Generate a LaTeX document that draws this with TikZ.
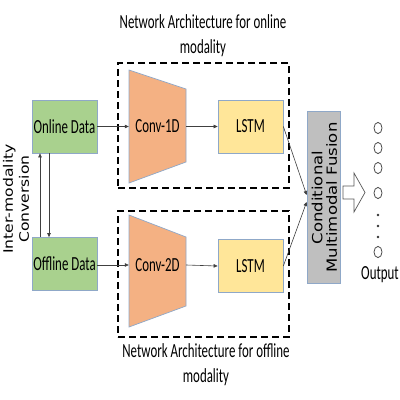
\documentclass[tikz,border=0pt]{standalone}
\usepackage{fontspec}
\usetikzlibrary{arrows.meta}
\newfontfamily\lblfont[FakeStretch=0.645]{Carlito}
\newfontfamily\rotfont[FakeStretch=1.2]{DejaVu Sans}
\newfontfamily\fusfont[FakeStretch=1.18]{DejaVu Sans}
\definecolor{gfill}{HTML}{A9D18E}
\definecolor{cfill}{HTML}{F4B183}
\definecolor{lfill}{HTML}{FFE699}
\definecolor{ffill}{HTML}{BFBFBF}
\definecolor{bord}{HTML}{8FA8C8}
\definecolor{lnk}{HTML}{404040}
\tikzset{
  box/.style={draw=bord, line width=0.7pt, minimum width=65pt, minimum height=53pt, inner sep=0pt,
    font=\lblfont\fontsize{20}{22}\selectfont},
  lbl/.style={inner sep=0pt, font=\lblfont\fontsize{20}{25}\selectfont, align=center},
  convlbl/.style={inner sep=0pt, minimum width=57pt, minimum height=40pt, font=\lblfont\fontsize{20}{22}\selectfont},
  dashbox/.style={draw=black, line width=1.7pt, dash pattern=on 7pt off 4pt, inner sep=0pt},
  conn/.style={draw=lnk, line width=0.6pt, -{Triangle[length=4pt,width=3.5pt]}},
  outc/.style={draw=black!70, line width=0.8pt},
}
\begin{document}
\begin{tikzpicture}[x=1pt,y=-1pt]
\useasboundingbox (0,0) rectangle (400,400);
\fill[white] (0,0) rectangle (400,400);

% titles
\node[lbl] (t1) at (203,36) {Network Architecture for online\\modality};
\node[lbl] (t2) at (206,365) {Network Architecture for offline\\modality};

% dashed network boxes
\node[dashbox, minimum width=171pt, minimum height=125pt] (net1) at (203.5,125.5) {};
\node[dashbox, minimum width=171pt, minimum height=126pt] (net2) at (203.5,274) {};

% data boxes
\node[box, fill=gfill] (online) at (64.5,126.5) {Online Data};
\node[box, fill=gfill] (offline) at (64.5,264) {Offline Data};

% conv trapezoids
\filldraw[fill=cfill, draw=bord, line width=0.7pt] (129,70) -- (186,89) -- (186,162) -- (129,183) -- cycle;
\filldraw[fill=cfill, draw=bord, line width=0.7pt] (129,215) -- (186,237) -- (186,306) -- (129,327) -- cycle;
\node[convlbl] (conv1) at (157.5,126.5) {Conv-1D};
\node[convlbl] (conv2) at (157.5,265) {Conv-2D};

% LSTM boxes
\node[box, fill=lfill] (lstm1) at (250.5,126.5) {LSTM};
\node[box, fill=lfill] (lstm2) at (250.5,266) {LSTM};

% fusion
\node[draw=bord, fill=ffill, line width=0.7pt, minimum width=33pt, minimum height=172pt, inner sep=0pt] (fusion) at (323.5,197.5) {};
\node[rotate=90, align=center, inner sep=0pt, font=\fusfont\fontsize{14}{14.5}\selectfont] (fusiontext) at (324.5,197.5) {Conditional\\Multimodal Fusion};

% inter-modality label
\node[rotate=90, align=center, inner sep=0pt, font=\rotfont\fontsize{13}{16}\selectfont] (inter) at (16,199) {Inter-modality\\Conversion};

% connectors
\draw[conn] (online.east) -- (conv1.west);
\draw[conn] (offline.east |- conv2.west) -- (conv2.west);
\draw[conn] (conv1.east) -- (lstm1.west);
\draw[conn] (conv2.east) -- (lstm2.west);
\draw[conn] (lstm1.east) -- ([yshift=2.5pt]fusion.west);
\draw[conn] (lstm2.east) -- ([yshift=-4.5pt]fusion.west);
\draw[conn] ([xshift=-24.5pt]offline.north) -- ([xshift=-24.5pt]online.south);
\draw[conn] ([xshift=-15.5pt]online.south) -- ([xshift=-15.5pt]offline.north);

% block arrow
\filldraw[fill=white, draw=black!65, line width=0.7pt]
  (343,186) -- (354,186) -- (354,173) -- (365,192.5) -- (354,212) -- (354,199) -- (343,199) -- cycle;

% outputs
\foreach \yy in {128,148,168,193,252}
  \draw[outc] (378,\yy) ellipse [x radius=4pt, y radius=5.6pt];
\fill[black!80] (378,215) circle [radius=1.3pt] (378,226) circle [radius=1.3pt] (378,237) circle [radius=1.3pt];
\node[lbl] (outlbl) at (380,275) {Output};
\end{tikzpicture}
\end{document}
